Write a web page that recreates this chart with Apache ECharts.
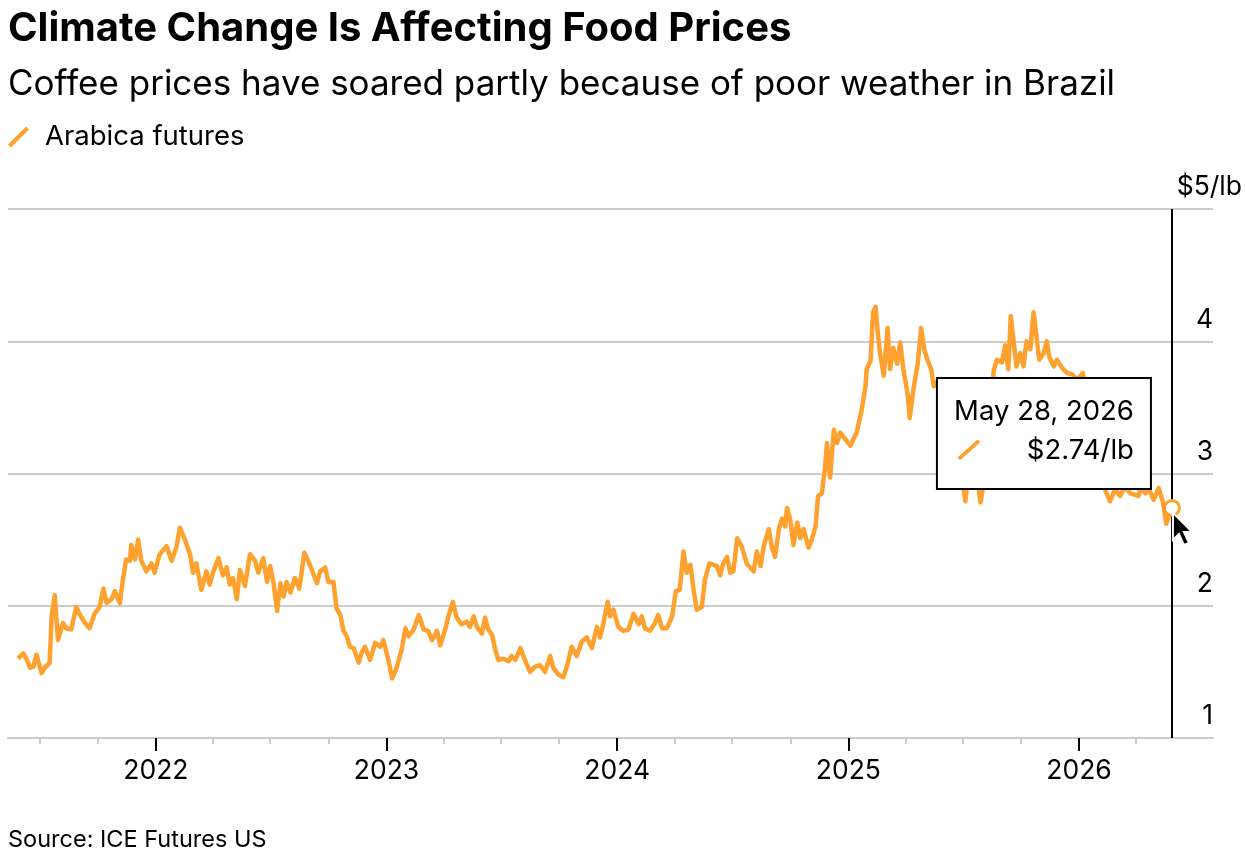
<!DOCTYPE html>
<html>
<head>
<meta charset="utf-8">
<title>Climate Change Is Affecting Food Prices</title>
<script src="https://cdn.jsdelivr.net/npm/echarts@6/dist/echarts.min.js"></script>
<style>
  html, body { margin: 0; padding: 0; background: #fff; }
  #chart { width: 1246px; height: 856px; }
</style>
</head>
<body>
<div id="chart"></div>
<script>
// Arabica futures, $/lb. Days are counted from startDate.
const startDate = '2021-05-28'
const dayOffsets = [
  0, 8, 13, 19, 24, 29, 37, 42, 50, 53, 58, 63, 71, 76, 84, 92, 98, 106, 113, 121,
  129, 135, 140, 148, 153, 161, 166, 171, 177, 179, 185, 190, 195, 203, 211, 216, 224, 235, 243, 251,
  256, 264, 272, 277, 282, 290, 298, 303, 309, 317, 324, 330, 335, 340, 346, 351, 359,
  367, 375, 380, 388, 394, 399, 404, 410, 415, 420, 425, 431, 438, 445, 453, 459, 465, 473, 478, 486,
  491, 499, 504, 510, 515, 520, 525, 531, 539, 544, 549, 557, 565, 573, 578, 586, 592, 599, 607, 613,
  618, 626, 634, 642, 649, 655, 663, 668, 676, 681, 688, 694, 702, 710, 715, 721,
  726, 734, 739, 744, 750, 755, 760, 768, 776, 781, 787, 795, 802, 810, 818, 826, 834, 842, 847, 855,
  863, 869, 876, 884, 892, 900, 908, 916, 921, 926, 933, 937, 942, 950, 958, 966, 974, 982, 987, 992,
  1000, 1008, 1013, 1019, 1027, 1035, 1041, 1047, 1053, 1058, 1064, 1069, 1074, 1082, 1087, 1094,
  1106, 1111, 1116, 1122, 1127, 1132, 1138, 1145, 1153, 1164, 1169, 1175, 1180, 1188, 1193, 1198, 1204, 1209, 1214, 1217,
  1222, 1227, 1233, 1238, 1243, 1251, 1256, 1262, 1266, 1272, 1277, 1280, 1285, 1291, 1296, 1301, 1309, 1317, 1327, 1335,
  1341, 1343, 1349, 1353, 1357, 1360, 1364, 1370, 1376, 1380, 1385, 1391, 1396, 1401, 1408, 1411, 1417, 1424, 1429, 1434,
  1439, 1445, 1449,
  1456, 1464, 1472, 1480, 1488, 1494, 1499, 1504, 1510, 1517, 1523, 1529, 1535, 1544, 1549, 1557, 1562, 1567, 1571, 1575,
  1580, 1586, 1591, 1596, 1602, 1607, 1612, 1616, 1623, 1628, 1632, 1639, 1644, 1652, 1660, 1668, 1676, 1685, 1692, 1700,
  1708, 1718, 1728, 1736, 1744, 1752, 1760, 1773, 1778, 1784, 1790, 1797, 1805, 1812, 1817, 1823, 1826
]
const prices = [
  1.60, 1.64, 1.60, 1.53, 1.54, 1.63, 1.49, 1.53, 1.57, 1.92, 2.08, 1.74, 1.87, 1.83, 1.82, 1.99, 1.93, 1.87, 1.83, 1.94,
  1.99, 2.13, 2.02, 2.05, 2.11, 2.02, 2.20, 2.35, 2.34, 2.46, 2.35, 2.50, 2.34, 2.26, 2.32, 2.25, 2.39, 2.45, 2.34, 2.45,
  2.59, 2.50, 2.39, 2.25, 2.32, 2.12, 2.26, 2.16, 2.26, 2.36, 2.23, 2.29, 2.16, 2.21, 2.05, 2.27, 2.15,
  2.39, 2.34, 2.25, 2.36, 2.18, 2.30, 2.18, 1.96, 2.17, 2.07, 2.18, 2.10, 2.21, 2.13, 2.40, 2.34, 2.27, 2.17, 2.26, 2.29,
  2.18, 2.18, 1.98, 1.93, 1.81, 1.77, 1.69, 1.68, 1.57, 1.65, 1.69, 1.59, 1.72, 1.69, 1.74, 1.59, 1.45, 1.53, 1.67, 1.83,
  1.77, 1.82, 1.93, 1.82, 1.81, 1.74, 1.81, 1.70, 1.82, 1.92, 2.03, 1.91, 1.86, 1.88, 1.84, 1.92,
  1.84, 1.79, 1.91, 1.82, 1.78, 1.67, 1.59, 1.60, 1.58, 1.62, 1.59, 1.68, 1.59, 1.50, 1.54, 1.55, 1.50, 1.62, 1.53, 1.48,
  1.46, 1.55, 1.69, 1.62, 1.73, 1.76, 1.68, 1.84, 1.76, 1.86, 2.03, 1.92, 1.97, 1.84, 1.81, 1.82, 1.94, 1.86, 1.92, 1.83,
  1.81, 1.87, 1.93, 1.83, 1.83, 1.92, 2.11, 2.12, 2.41, 2.25, 2.31, 2.12, 1.97, 1.99, 2.20, 2.32,
  2.30, 2.23, 2.32, 2.37, 2.25, 2.26, 2.51, 2.45, 2.32, 2.26, 2.41, 2.30, 2.45, 2.58, 2.44, 2.37, 2.58, 2.66, 2.60, 2.74,
  2.65, 2.46, 2.63, 2.51, 2.58, 2.44, 2.50, 2.60, 2.83, 2.85, 3.04, 3.23, 2.97, 3.33, 3.23, 3.31, 3.26, 3.21, 3.31, 3.48,
  3.66, 3.79, 3.85, 4.22, 4.26, 4.09, 3.91, 3.74, 4.10, 3.79, 3.95, 3.83, 3.99, 3.79, 3.59, 3.42, 3.64, 3.84, 4.10, 3.94,
  3.86, 3.79, 3.66,
  3.70, 3.55, 3.45, 3.30, 3.05, 2.95, 2.79, 3.00, 2.95, 3.02, 2.78, 2.95, 3.25, 3.78, 3.86, 3.84, 3.97, 3.79, 4.19, 4.02,
  3.81, 3.91, 3.81, 4.00, 3.94, 4.22, 4.02, 3.86, 3.91, 4.00, 3.88, 3.81, 3.86, 3.80, 3.76, 3.75, 3.71, 3.76, 3.55, 3.35,
  3.10, 2.90, 2.79, 2.88, 2.83, 2.90, 2.85, 2.83, 2.90, 2.85, 2.88, 2.80, 2.89, 2.78, 2.62, 2.70, 2.74
]
const yearTicks = ['2022-01-01', '2023-01-01', '2024-01-01', '2025-01-01', '2026-01-01']
const quarterTicks = [
  '2021-07-01', '2021-10-01', '2022-04-01', '2022-07-01', '2022-10-01',
  '2023-04-01', '2023-07-01', '2023-10-01', '2024-04-01', '2024-07-01', '2024-10-01',
  '2025-04-01', '2025-07-01', '2025-10-01', '2026-04-01'
]
const axisRange = ['2021-05-12', '2026-08-01']
const priceRange = [1, 5]

const ORANGE = '#ffa12e'
const FONT = 'Inter, "Liberation Sans", sans-serif'
const DAY = 24 * 3600 * 1000
const MONTHS = ['Jan', 'Feb', 'Mar', 'Apr', 'May', 'Jun', 'Jul', 'Aug', 'Sep', 'Oct', 'Nov', 'Dec']

const utc = s => {
  const [y, m, d] = s.split('-').map(Number)
  return Date.UTC(y, m - 1, d)
}
const start = utc(startDate)
// x axis works in days since startDate
const toDay = s => Math.round((utc(s) - start) / DAY)
const dayToDate = v => new Date(start + v * DAY)

const seriesData = dayOffsets.map((d, i) => [d, prices[i]])
const last = seriesData[seriesData.length - 1]

const chart = echarts.init(document.getElementById('chart'))

const option = {
  animation: false,
  backgroundColor: '#fff',
  textStyle: { fontFamily: FONT },
  title: [
    {
      text: 'Climate Change Is Affecting Food Prices',
      subtext: 'Coffee prices have soared partly because of poor weather in Brazil',
      left: 8,
      top: 9,
      padding: 0,
      itemGap: 18,
      textStyle: { fontSize: 40, fontWeight: 'bold', color: '#000', fontFamily: FONT },
      subtextStyle: { fontSize: 35, color: '#000', fontFamily: FONT }
    },
    {
      text: 'Source: ICE Futures US',
      left: 8,
      top: 828,
      padding: 0,
      textStyle: { fontSize: 23.5, fontWeight: 'normal', color: '#000', fontFamily: FONT }
    }
  ],
  legend: {
    left: 8,
    top: 123,
    padding: 0,
    itemWidth: 21,
    itemHeight: 21,
    icon: 'path://M0,18 L18,0 L21,3 L3,21 Z',
    textStyle: { fontSize: 27.5, color: '#000', fontFamily: FONT, padding: [0, 0, 0, 11] },
    data: ['Arabica futures']
  },
  grid: { left: 8, right: 33, top: 209, bottom: 118 },
  xAxis: [
    {
      type: 'value',
      min: toDay(axisRange[0]),
      max: toDay(axisRange[1]),
      axisLine: { lineStyle: { color: '#cccccc', width: 2 } },
      axisTick: {
        customValues: quarterTicks.map(toDay),
        length: 6,
        lineStyle: { color: '#cccccc', width: 2 }
      },
      axisLabel: { show: false },
      splitLine: { show: false }
    },
    {
      type: 'value',
      position: 'bottom',
      min: toDay(axisRange[0]),
      max: toDay(axisRange[1]),
      axisLine: { show: false },
      axisTick: {
        customValues: yearTicks.map(toDay),
        length: 13,
        lineStyle: { color: '#000', width: 2 }
      },
      axisLabel: {
        customValues: yearTicks.map(toDay),
        formatter: v => String(dayToDate(v).getUTCFullYear()),
        fontSize: 26.5,
        color: '#000',
        fontFamily: FONT,
        margin: 20
      },
      splitLine: { show: false }
    }
  ],
  yAxis: {
    type: 'value',
    position: 'right',
    min: priceRange[0],
    max: priceRange[1],
    interval: 1,
    axisLine: { show: false },
    axisTick: { show: false },
    splitLine: { lineStyle: { color: '#cccccc', width: 2 } },
    axisLabel: {
      margin: 29,
      align: 'right',
      verticalAlign: 'bottom',
      formatter: v => v === priceRange[1] ? '{t|$' + v + '/lb}' : '{t|' + v + '}{pad| }',
      rich: {
        t: { fontSize: 26.5, color: '#000', fontFamily: FONT, padding: [0, 0, 8, 0] },
        pad: { width: 29, fontSize: 26.5 }
      }
    }
  },
  series: [
    {
      name: 'Arabica futures',
      type: 'line',
      xAxisIndex: 0,
      data: seriesData,
      showSymbol: false,
      silent: true,
      color: ORANGE,
      lineStyle: { color: ORANGE, width: 4.5, join: 'round' },
      markLine: {
        silent: true,
        symbol: ['none', 'none'],
        label: { show: false },
        lineStyle: { color: '#000', width: 2, type: 'solid' },
        data: [{ xAxis: last[0] }]
      }
    },
    {
      name: 'hover',
      type: 'scatter',
      xAxisIndex: 0,
      data: [last],
      symbolSize: 15,
      silent: true,
      z: 5,
      itemStyle: { color: '#fff', borderColor: ORANGE, borderWidth: 3, opacity: 1 }
    }
  ]
}

chart.setOption(option)

// tooltip box and mouse pointer, placed from the last point
const [px, py] = chart.convertToPixel({ xAxisIndex: 0, yAxisIndex: 0 }, last)
const lastDate = dayToDate(last[0])
const dateText = MONTHS[lastDate.getUTCMonth()] + ' ' + lastDate.getUTCDate() + ', ' + lastDate.getUTCFullYear()
const priceText = '$' + last[1].toFixed(2) + '/lb'

chart.setOption({
  graphic: [
    {
      type: 'rect',
      z: 100,
      shape: { x: px - 235, y: py - 130, width: 214, height: 111 },
      style: { fill: '#fff', stroke: '#000', lineWidth: 2 }
    },
    {
      type: 'text',
      z: 101,
      style: {
        text: dateText, x: px - 38, y: py - 96,
        align: 'right', verticalAlign: 'middle',
        font: '27.5px ' + FONT, fill: '#000'
      }
    },
    {
      type: 'text',
      z: 101,
      style: {
        text: priceText, x: px - 38, y: py - 57,
        align: 'right', verticalAlign: 'middle',
        font: '27.5px ' + FONT, fill: '#000'
      }
    },
    {
      type: 'line',
      z: 101,
      shape: { x1: px - 213, y1: py - 49, x2: px - 193, y2: py - 67 },
      style: { stroke: ORANGE, lineWidth: 4 }
    },
    {
      type: 'polygon',
      z: 102,
      shape: {
        points: [[0, 0], [0, 27], [6, 21], [11, 32], [16, 30], [11, 19], [19, 19]]
          .map(p => [px + 1 + p[0], py + 5 + p[1]])
      },
      style: { fill: '#000', stroke: '#fff', lineWidth: 2 }
    }
  ]
})

window.addEventListener('resize', () => chart.resize())
</script>
</body>
</html>
